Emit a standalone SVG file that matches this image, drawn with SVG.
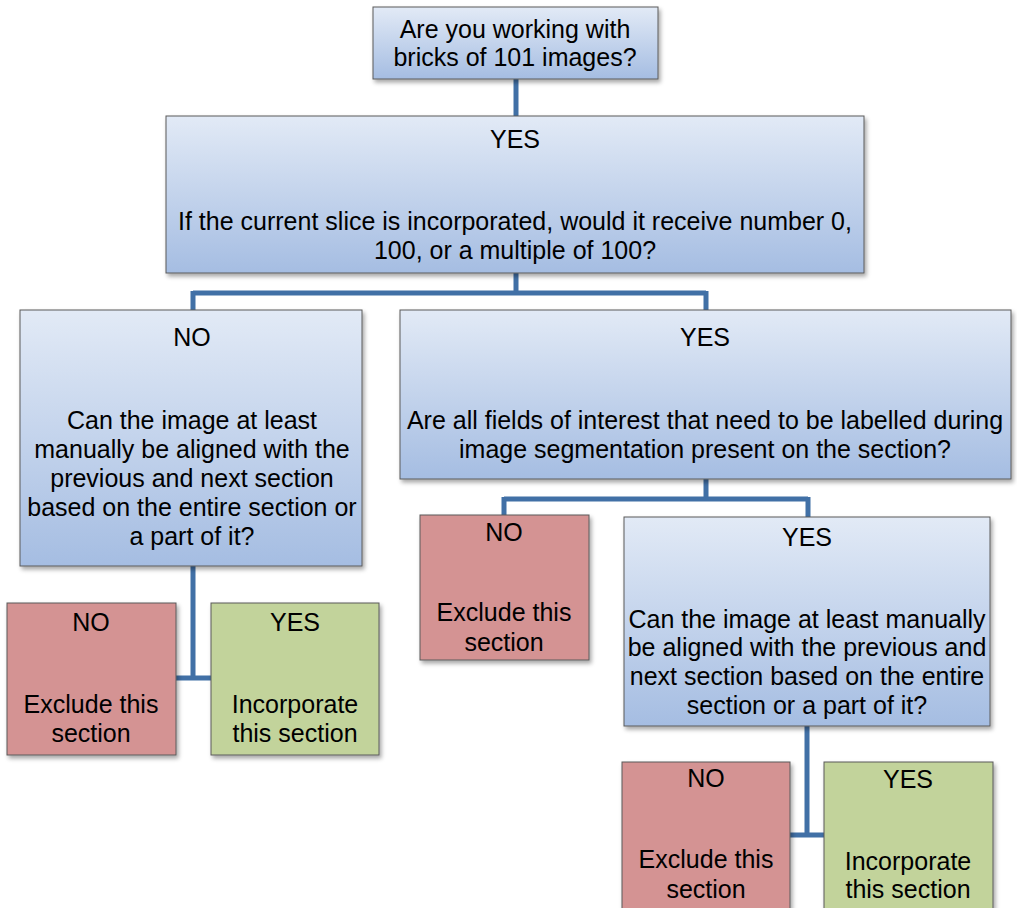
<svg xmlns="http://www.w3.org/2000/svg" width="1017" height="908" viewBox="0 0 1017 908">
<defs>
<linearGradient id="blue" x1="0" y1="0" x2="0" y2="1">
<stop offset="0" stop-color="#e2eaf6"/>
<stop offset="1" stop-color="#a5bde2"/>
</linearGradient>
<filter id="sh" x="-10%" y="-10%" width="120%" height="130%">
<feDropShadow dx="2" dy="3" stdDeviation="2" flood-color="#000" flood-opacity="0.35"/>
</filter>
</defs>
<style>
.box{stroke:#5a5a5a;stroke-width:1;filter:url(#sh)}
.q{fill:url(#blue)}
.no{fill:#d49393}
.yes{fill:#c2d39b}
text{font-family:"Liberation Sans",Arial,sans-serif;font-size:25px;fill:#000;text-anchor:middle}
.conn{fill:none;stroke:#4170a6;stroke-width:5}
</style>
<rect width="1017" height="908" fill="#fff"/>
<g id="connectors">
<path class="conn" d="M516 79V116"/>
<path class="conn" d="M516 273V293M193 293H706M193 291V310M706 291V310"/>
<path class="conn" d="M706 479V499M504 499H808M504 497V515M808 497V517"/>
<path class="conn" d="M193 566V678M176 678H211"/>
<path class="conn" d="M807 726V835M790 835H824"/>
</g>
<g id="n1"><rect class="box q" x="373" y="7" width="285" height="72"/>
<text x="515" y="38">Are you working with</text><text x="515" y="66">bricks of 101 images?</text></g>
<g id="n2"><rect class="box q" x="166" y="116" width="698" height="157"/>
<text x="515" y="148">YES</text>
<text x="515" y="230">If the current slice is incorporated, would it receive number 0,</text>
<text x="515" y="259">100, or a multiple of 100?</text></g>
<g id="n3"><rect class="box q" x="20" y="310" width="342" height="256"/>
<text x="192" y="346">NO</text>
<text x="192" y="429">Can the image at least</text>
<text x="192" y="458">manually be aligned with the</text>
<text x="192" y="487">previous and next section</text>
<text x="192" y="516">based on the entire section or</text>
<text x="192" y="545">a part of it?</text></g>
<g id="n4"><rect class="box q" x="400" y="310" width="611" height="169"/>
<text x="705" y="346">YES</text>
<text x="705" y="429">Are all fields of interest that need to be labelled during</text>
<text x="705" y="458">image segmentation present on the section?</text></g>
<g id="n5"><rect class="box no" x="7" y="603" width="169" height="152"/>
<text x="91" y="631">NO</text><text x="91" y="713">Exclude this</text><text x="91" y="742">section</text></g>
<g id="n6"><rect class="box yes" x="211" y="603" width="168" height="152"/>
<text x="295" y="631">YES</text><text x="295" y="713">Incorporate</text><text x="295" y="742">this section</text></g>
<g id="n7"><rect class="box no" x="420" y="515" width="169" height="145"/>
<text x="504" y="541">NO</text><text x="504" y="621">Exclude this</text><text x="504" y="651">section</text></g>
<g id="n8"><rect class="box q" x="624" y="517" width="366" height="209"/>
<text x="807" y="546">YES</text>
<text x="807" y="628">Can the image at least manually</text>
<text x="807" y="656">be aligned with the previous and</text>
<text x="807" y="685">next section based on the entire</text>
<text x="807" y="714">section or a part of it?</text></g>
<g id="n9"><rect class="box no" x="622" y="762" width="168" height="160"/>
<text x="706" y="787">NO</text><text x="706" y="868">Exclude this</text><text x="706" y="898">section</text></g>
<g id="n10"><rect class="box yes" x="824" y="762" width="169" height="160"/>
<text x="908" y="788">YES</text><text x="908" y="870">Incorporate</text><text x="908" y="898">this section</text></g>
</svg>
